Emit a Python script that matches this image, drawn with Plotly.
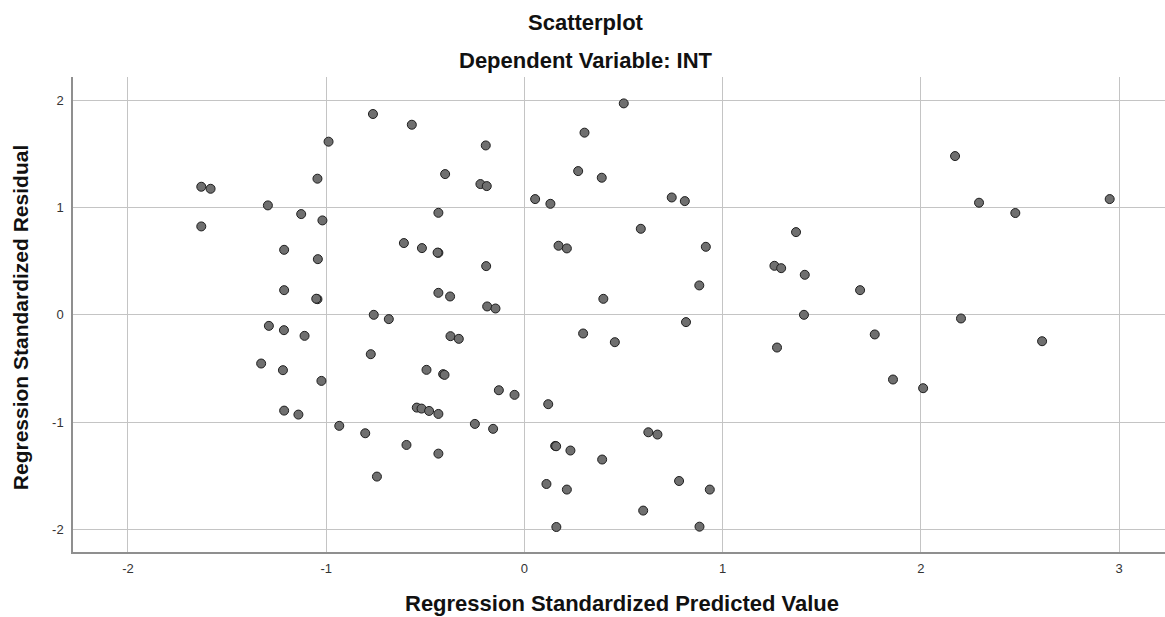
import plotly.graph_objects as go

# Regression standardized predicted values (x) and residuals (y)
pred = [
    -0.764, -0.988, -1.044, -1.630, -1.583, -1.294, -1.126, -1.019, -1.630, -1.212,
    -1.042, -1.212, -1.044, -1.050, -0.760, -0.684, -1.289, -1.213, -1.109, -0.775,
    -1.328, -1.218, -1.024, -1.212, -1.140, -0.934, -0.803, -0.744, 0.501, -0.568,
    0.303, -0.195, -0.400, 0.271, 0.390, -0.222, -0.190, 0.054, 0.131, 0.743,
    0.809, -0.434, 0.587, -0.608, -0.517, -0.434, -0.438, 0.172, 0.214, 0.915,
    -0.193, 0.882, -0.434, -0.375, 0.398, -0.188, -0.146, 1.261, 1.295, 0.815,
    0.296, 0.456, -0.373, -0.331, -0.494, -0.410, -0.403, -0.129, -0.050, 0.120,
    -0.543, -0.519, -0.481, -0.434, -0.250, -0.158, -0.595, -0.434, 0.625, 0.671,
    0.155, 0.160, 0.232, 0.392, 0.111, 0.214, 0.780, 0.935, 0.599, 0.161,
    0.883, 1.274, 2.172, 2.293, 2.476, 2.952, 1.370, 1.414, 1.693, 1.410,
    2.202, 1.767, 2.611, 1.859, 2.011,
]
resid = [
    1.872, 1.614, 1.269, 1.194, 1.175, 1.020, 0.939, 0.880, 0.824, 0.606,
    0.519, 0.230, 0.146, 0.150, 0.000, -0.040, -0.103, -0.143, -0.196, -0.367,
    -0.454, -0.516, -0.616, -0.893, -0.930, -1.035, -1.104, -1.508, 1.971, 1.772,
    1.698, 1.579, 1.312, 1.340, 1.278, 1.219, 1.200, 1.079, 1.035, 1.094,
    1.060, 0.951, 0.802, 0.669, 0.622, 0.578, 0.580, 0.644, 0.619, 0.634,
    0.454, 0.274, 0.205, 0.171, 0.149, 0.078, 0.059, 0.457, 0.435, -0.068,
    -0.174, -0.255, -0.199, -0.224, -0.513, -0.553, -0.560, -0.703, -0.746, -0.833,
    -0.865, -0.874, -0.896, -0.924, -1.017, -1.063, -1.213, -1.294, -1.095, -1.116,
    -1.222, -1.225, -1.265, -1.349, -1.577, -1.629, -1.549, -1.629, -1.825, -1.978,
    -1.975, -0.305, 1.480, 1.045, 0.949, 1.079, 0.771, 0.373, 0.230, 0.000,
    -0.034, -0.183, -0.246, -0.603, -0.684,
]

x_ticks = [-2, -1, 0, 1, 2, 3]
y_ticks = [-2, -1, 0, 1, 2]

title_text = "Scatterplot"
subtitle_text = "Dependent Variable: INT"
x_title = "Regression Standardized Predicted Value"
y_title = "Regression Standardized Residual"

FONT = "Liberation Sans, Arial, sans-serif"

fig = go.Figure()
fig.add_trace(go.Scatter(
    x=pred, y=resid, mode="markers",
    marker=dict(size=9, color="#6f6f6f", line=dict(color="#1e1e1e", width=1)),
    showlegend=False, hoverinfo="x+y",
))

fig.update_layout(
    width=1165, height=617,
    margin=dict(l=73, r=0, t=77, b=65, pad=0),
    paper_bgcolor="white", plot_bgcolor="white",
    font=dict(family=FONT, color="#222222"),
    xaxis=dict(
        range=[-2.277, 3.231], tickvals=x_ticks, ticktext=[str(v) for v in x_ticks],
        showgrid=True, gridcolor="#c4c4c4", gridwidth=1.3,
        zeroline=False, showline=True, linecolor="#8f8f8f", linewidth=1.5,
        ticks="", ticklabelstandoff=4, tickfont=dict(size=13, color="#333333", family=FONT),
    ),
    yaxis=dict(
        range=[-2.211, 2.217], tickvals=y_ticks, ticktext=[str(v) for v in y_ticks],
        showgrid=True, gridcolor="#c4c4c4", gridwidth=1.3,
        zeroline=False, showline=True, linecolor="#8f8f8f", linewidth=1.5,
        ticks="", ticklabelstandoff=5, tickfont=dict(size=13, color="#333333", family=FONT),
    ),
    annotations=[
        dict(text="<b>%s</b>" % title_text, xref="paper", yref="paper", x=0.470, y=1.1154,
             xanchor="center", yanchor="middle", showarrow=False,
             font=dict(size=22, family=FONT, color="#111111")),
        dict(text="<b>%s</b>" % subtitle_text, xref="paper", yref="paper", x=0.470, y=1.0343,
             xanchor="center", yanchor="middle", showarrow=False,
             font=dict(size=22, family=FONT, color="#111111")),
        dict(text="<b>%s</b>" % x_title, xref="paper", yref="paper", x=0.503, y=-0.108,
             xanchor="center", yanchor="middle", showarrow=False,
             font=dict(size=22, family=FONT, color="#111111")),
        dict(text="<b>%s</b>" % y_title, xref="paper", yref="paper", x=-0.0482, y=0.493,
             xanchor="center", yanchor="middle", showarrow=False, textangle=-90,
             font=dict(size=21, family=FONT, color="#111111")),
    ],
)

fig.write_html("out.html", config={"displayModeBar": False},
               post_script="document.body.style.margin='0';")
